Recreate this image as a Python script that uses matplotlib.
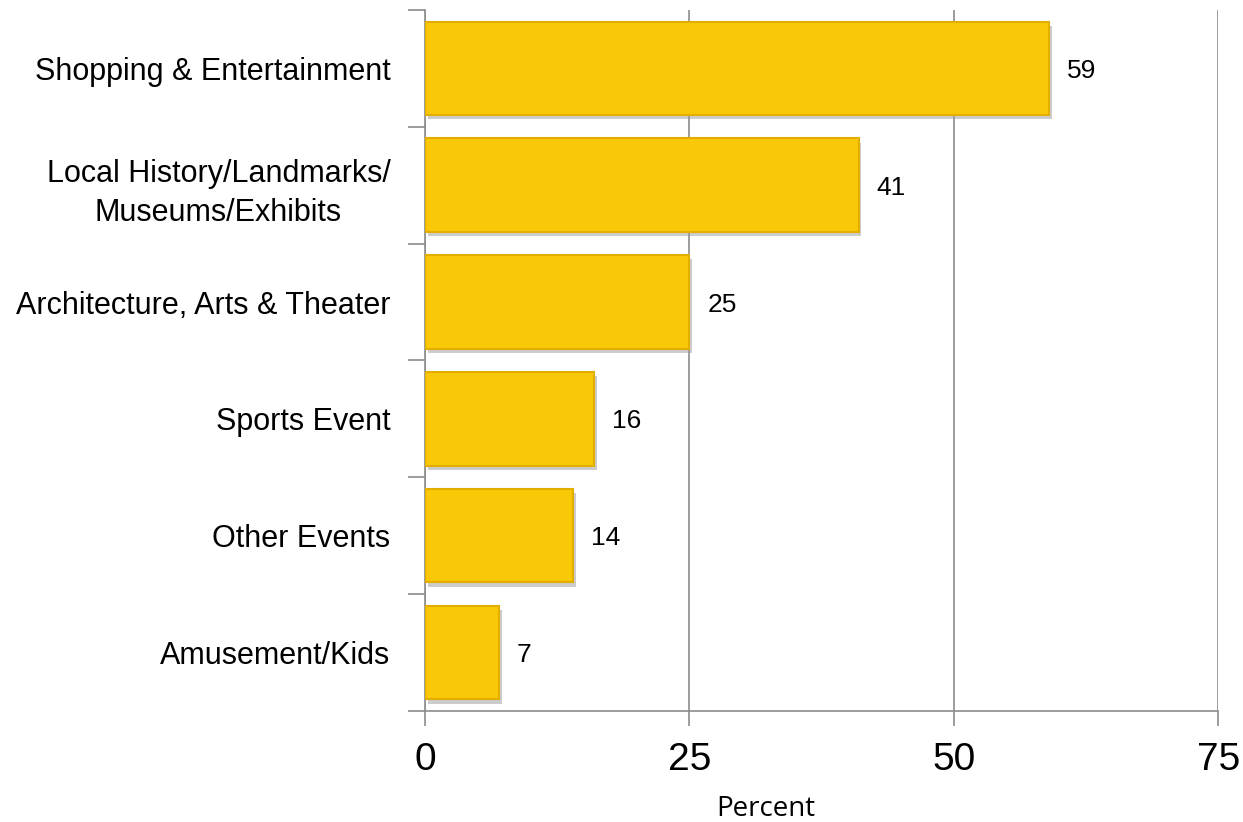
import matplotlib
matplotlib.use('Agg')
import matplotlib.pyplot as plt
import matplotlib.patheffects as pe

categories = ['Shopping & Entertainment',
              'Local History/Landmarks/\nMuseums/Exhibits',
              'Architecture, Arts & Theater',
              'Sports Event',
              'Other Events',
              'Amusement/Kids']
percent = [59, 41, 25, 16, 14, 7]
xticks = [0, 25, 50, 75]

gold = '#F9C806'
edge = '#E2AE00'
gray = '#8C8C8C'

fig = plt.figure(figsize=(12.43, 8.22), dpi=100)
ax = fig.add_axes([0.342, 0.135, 0.638, 0.853])

ypos = list(range(len(categories)))[::-1]
bars = ax.barh(ypos, percent, height=0.8, color=gold, edgecolor=edge, linewidth=1.5, zorder=3)
for b in bars:
    b.set_path_effects([pe.SimplePatchShadow(offset=(2, -3), shadow_rgbFace='#9a9a9a', alpha=0.5),
                        pe.Normal()])

for y, v in zip(ypos, percent):
    ax.text(v + 1.7, y, str(v), va='center_baseline', ha='left', fontsize=19,
            family='Liberation Sans', color='black')

ax.set_xlim(0, 75)
ax.set_ylim(-0.5, len(categories) - 0.5)
ax.set_xticks(xticks)
ax.set_xticklabels([str(t) for t in xticks], family='Liberation Sans', fontsize=28)
ax.tick_params(axis='x', length=11, width=1.2, color=gray, pad=11)

ax.set_yticks(ypos)
ax.set_yticklabels(categories, family='Liberation Sans', fontsize=22, linespacing=1.4,
                   multialignment='center')
ax.tick_params(axis='y', which='major', length=0, pad=25)
ax.set_yticks([i - 0.5 for i in range(len(categories) + 1)], minor=True)
ax.tick_params(axis='y', which='minor', length=12, width=1.2, color=gray)

ax.grid(axis='x', color=gray, linewidth=1.2, zorder=0)
for s in ['top', 'right']:
    ax.spines[s].set_visible(False)
for s in ['left', 'bottom']:
    ax.spines[s].set_color(gray)
    ax.spines[s].set_linewidth(1.2)

ax.set_xlabel('Percent', family='Open Sans', fontsize=20)
ax.xaxis.set_label_coords(0.43, -0.12)

fig.savefig('out.png', dpi=100)
